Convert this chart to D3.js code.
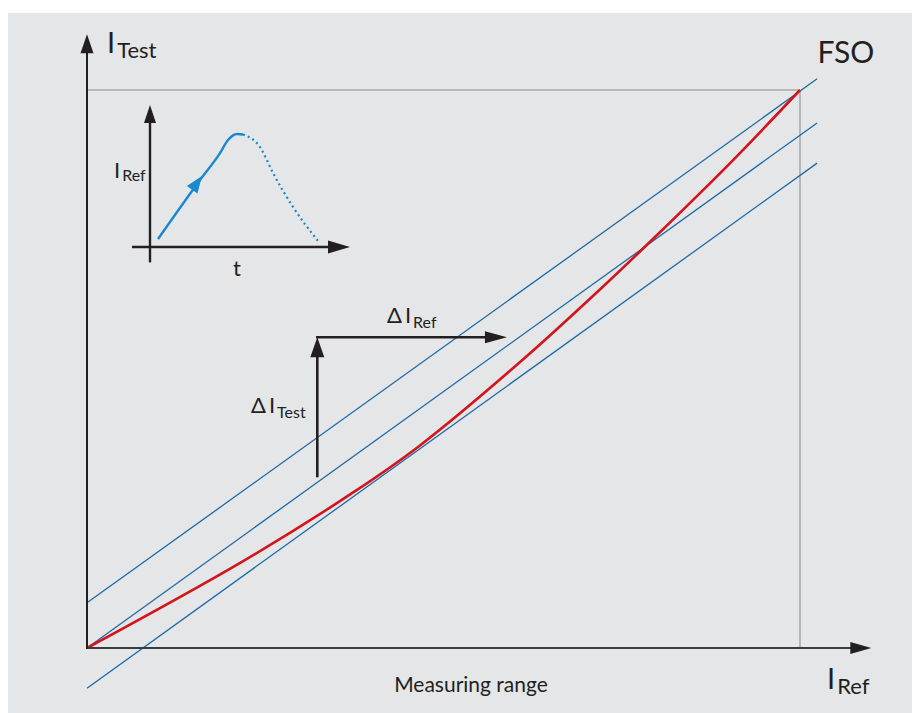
<!DOCTYPE html>
<html>
<head>
<meta charset="utf-8">
<script src="https://cdn.jsdelivr.net/npm/d3@7"></script>
<style>
  body { margin: 0; background: #fff; }
  text { font-family: Lato, "Open Sans", sans-serif; fill: #231f20; }
</style>
</head>
<body>
<script>
// Main chart: measured characteristic (I_Ref -> I_Test), percent of FSO
const refValues  = [0, 22.2, 37.6, 46.7, 60.7, 71.9, 79.7, 90.2, 100];
const testValues = [0, 15.8, 28.1, 36.3, 51.2, 64.2, 73.7, 86.9, 100];

// Tolerance band lines (start at I_Ref = 0, end at I_Ref = bandEndX)
const bandNames  = ["upper", "ideal", "lower"];
const bandStartY = [8.1, 0, -7.2];
const bandEndX   = 102.4;
const bandEndY   = [102.0, 94.1, 86.9];

const fso = 100;
const axisEnd = 110;

// Delta arrows
const deltaX = 32.3;
const deltaYFrom = 30.6;
const deltaYTo = 55.7;
const deltaRefTo = 58.9;

// Inset: I_Ref over time
const insetRiseT = [4, 25, 35, 39, 43.5, 46.5];
const insetRiseI = [5.7, 47.9, 67.1, 76.4, 80.7, 80.4];
const insetFallT = [46.5, 55, 61.5, 71.5, 84];
const insetFallI = [80.4, 71.4, 52.9, 28.6, 4.3];

const width = 912, height = 713;

const svg = d3.select("body").append("svg")
  .attr("width", width)
  .attr("height", height);

svg.append("rect")
  .attr("x", 8).attr("y", 13)
  .attr("width", 904).attr("height", 700)
  .attr("fill", "#e5e6e8");

const x = d3.scaleLinear().domain([0, 100]).range([87, 800]);
const y = d3.scaleLinear().domain([0, 100]).range([648, 90]);

const dark = "#231f20";

function arrowHead(g, tx, ty, angle, len, wid, color) {
  g.append("path")
    .attr("d", `M0,0 L${-len},${-wid / 2} L${-len},${wid / 2} Z`)
    .attr("transform", `translate(${tx},${ty}) rotate(${angle})`)
    .attr("fill", color);
}

// FSO guide lines
svg.append("line")
  .attr("x1", x(0)).attr("y1", y(fso))
  .attr("x2", x(fso)).attr("y2", y(fso))
  .attr("stroke", "#a9aaac").attr("stroke-width", 1.6);
svg.append("line")
  .attr("x1", x(fso)).attr("y1", y(fso))
  .attr("x2", x(fso)).attr("y2", y(0))
  .attr("stroke", "#a9aaac").attr("stroke-width", 1.6);

// Tolerance band
const line = d3.line().x(d => x(d[0])).y(d => y(d[1]));
svg.selectAll("path.band")
  .data(bandNames.map((n, i) => [[0, bandStartY[i]], [bandEndX, bandEndY[i]]]))
  .enter()
  .append("path")
  .attr("class", "band")
  .attr("d", line)
  .attr("fill", "none")
  .attr("stroke", "#1d6aa6")
  .attr("stroke-width", 1.3);

// Characteristic curve
svg.append("path")
  .datum(refValues.map((v, i) => [v, testValues[i]]))
  .attr("d", line.curve(d3.curveCatmullRom))
  .attr("fill", "none")
  .attr("stroke", "#d3141d")
  .attr("stroke-width", 2.6);
line.curve(d3.curveLinear);

// Axes
svg.append("line")
  .attr("x1", x(0)).attr("y1", y(0))
  .attr("x2", x(axisEnd) - 10).attr("y2", y(0))
  .attr("stroke", "#3b3b3c").attr("stroke-width", 2);
arrowHead(svg, x(axisEnd), y(0), 0, 21, 12, dark);
svg.append("line")
  .attr("x1", x(0)).attr("y1", y(0) + 1)
  .attr("x2", x(0)).attr("y2", y(axisEnd) + 10)
  .attr("stroke", dark).attr("stroke-width", 2);
arrowHead(svg, x(0), y(axisEnd), -90, 19, 13, dark);

// Axis labels
function subLabel(tx, ty, pre, main, sub, mainSize, subSize, anchor) {
  const t = svg.append("text")
    .attr("x", tx).attr("y", ty)
    .attr("text-anchor", anchor || "start");
  if (pre) t.append("tspan").attr("font-size", mainSize).text(pre);
  t.append("tspan").attr("font-size", mainSize).text(main);
  t.append("tspan").attr("font-size", subSize).attr("dx", 2).attr("dy", 5).text(sub);
  return t;
}
subLabel(107, 53, null, "I", "Test", 29, 22);
subLabel(827, 689, null, "I", "Ref", 29, 22);

svg.append("text")
  .attr("x", 846).attr("y", 63)
  .attr("text-anchor", "middle")
  .attr("font-size", 30)
  .text("FSO");

svg.append("text")
  .attr("x", 471).attr("y", 692)
  .attr("text-anchor", "middle")
  .attr("font-size", 21)
  .text("Measuring range");

// Delta arrows
svg.append("line")
  .attr("x1", x(deltaX)).attr("y1", y(deltaYFrom))
  .attr("x2", x(deltaX)).attr("y2", y(deltaYTo) + 15)
  .attr("stroke", dark).attr("stroke-width", 2.6);
arrowHead(svg, x(deltaX), y(deltaYTo), -90, 20, 14, dark);
svg.append("line")
  .attr("x1", x(deltaX) - 1.3).attr("y1", y(deltaYTo))
  .attr("x2", x(deltaRefTo) - 15).attr("y2", y(deltaYTo))
  .attr("stroke", dark).attr("stroke-width", 2.6);
arrowHead(svg, x(deltaRefTo), y(deltaYTo), 0, 22, 12, dark);

subLabel(251, 413, "\u0394", "I", "Test", 22, 16).select("tspan:nth-child(2)").attr("dx", 3);
subLabel(387, 323, "\u0394", "I", "Ref", 22, 16).select("tspan:nth-child(2)").attr("dx", 3);

// Inset
const ix = d3.scaleLinear().domain([0, 100]).range([150, 350]);
const iy = d3.scaleLinear().domain([0, 100]).range([247, 107]);
const inset = svg.append("g");

const iline = d3.line().x(d => ix(d[0])).y(d => iy(d[1])).curve(d3.curveMonotoneX);
inset.append("path")
  .datum(insetRiseT.map((t, i) => [t, insetRiseI[i]]))
  .attr("d", iline)
  .attr("fill", "none")
  .attr("stroke", "#1a88cf")
  .attr("stroke-width", 2.4);
inset.append("path")
  .datum(insetFallT.map((t, i) => [t, insetFallI[i]]))
  .attr("d", iline)
  .attr("fill", "none")
  .attr("stroke", "#1a88cf")
  .attr("stroke-width", 2.2)
  .attr("stroke-dasharray", "2,3.2");

// direction arrow on rising edge
const a0 = [insetRiseT[0], insetRiseI[0]], a1 = [insetRiseT[1], insetRiseI[1]];
const ang = Math.atan2(iy(a1[1]) - iy(a0[1]), ix(a1[0]) - ix(a0[0])) * 180 / Math.PI;
arrowHead(inset, ix(a1[0]) + 2, iy(a1[1]) - 4, ang, 17, 13, "#1a88cf");

inset.append("line")
  .attr("x1", ix(-9)).attr("y1", iy(0))
  .attr("x2", ix(100) - 10).attr("y2", iy(0))
  .attr("stroke", dark).attr("stroke-width", 2.4);
arrowHead(inset, ix(100), iy(0), 0, 22, 13, dark);
inset.append("line")
  .attr("x1", ix(0)).attr("y1", iy(-11))
  .attr("x2", ix(0)).attr("y2", iy(100) + 10)
  .attr("stroke", dark).attr("stroke-width", 2.4);
arrowHead(inset, ix(0), iy(100) - 2, -90, 18, 12, dark);

const il = inset.append("text").attr("x", 114).attr("y", 178);
il.append("tspan").attr("font-size", 22).text("I");
il.append("tspan").attr("font-size", 16).attr("dx", 2).attr("dy", 3).text("Ref");

inset.append("text")
  .attr("x", ix(43.5)).attr("y", 276)
  .attr("text-anchor", "middle")
  .attr("font-size", 22)
  .text("t");
</script>
</body>
</html>
